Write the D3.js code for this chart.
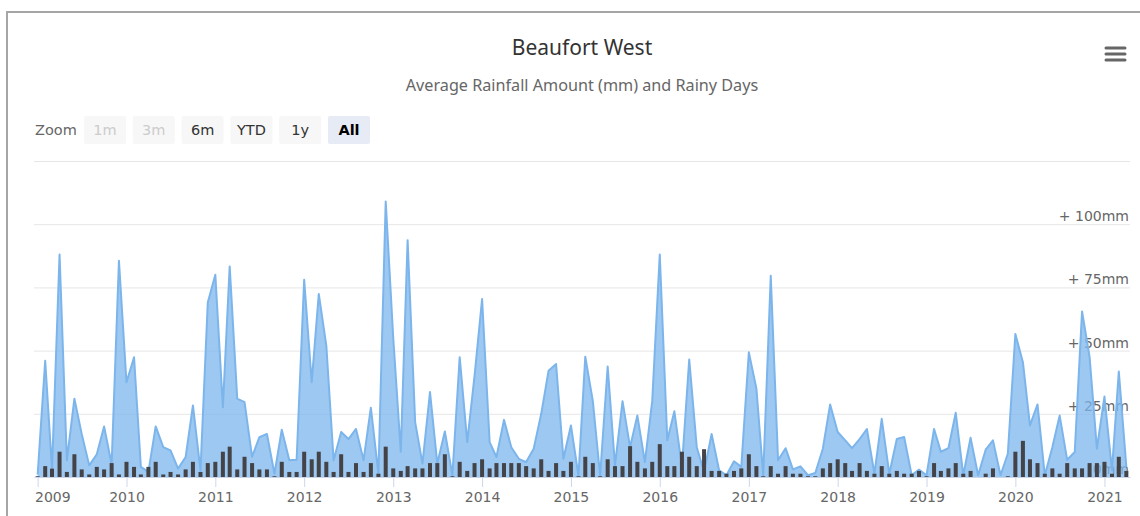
<!DOCTYPE html>
<html>
<head>
<meta charset="utf-8">
<script src="https://cdn.jsdelivr.net/npm/d3@7/dist/d3.min.js"></script>
<style>
  body { margin: 0; background: #fff; }
  svg { display: block; font-family: "DejaVu Sans", Verdana, sans-serif; }
  .head { font-family: "Noto Sans", "DejaVu Sans", sans-serif; }
</style>
</head>
<body>
<svg id="chart" width="1140" height="516"></svg>
<script>
// Beaufort West, monthly values Jan 2009 .. Apr 2021
const FIRST_MONTH = '2009-01-01';
const LAST_MONTH = '2021-04-01';

const rainfall = [
  1, 46, 3, 88, 6.6, 31, 17, 4.6, 9, 20, 5, 85.5,             // 2009
  37.5, 47.4, 4, 2, 20, 11.8, 10.5, 3.3, 7.9, 28.3, 2.6, 69,   // 2010
  80, 27.6, 83.3, 31, 29.6, 8, 15.8, 17, 1.3, 18.7, 6.6, 6.8,  // 2011
  78, 37.5, 72.4, 52, 6.6, 17.8, 15, 19, 6.6, 27.4, 1.3, 109,  // 2012
  55, 10, 93.7, 21.7, 5.3, 33.6, 5.3, 18, 0.7, 47.4, 13.8, 40, // 2013
  70.4, 13.8, 7.9, 22.6, 11.8, 7.2, 5.9, 11.2, 25, 42, 44.7, 7.2, // 2014
  20.4, 0.6, 47.6, 30, 0.6, 43.7, 4.6, 30, 11.8, 24.3, 5.9, 30,   // 2015
  88, 14.5, 26, 4, 46.5, 11.8, 2, 17, 2.6, 0.7, 6.2, 4,           // 2016
  49.3, 35, 0.7, 79.6, 6.6, 11.4, 3, 4.2, 0.7, 1.6, 11.2, 28.7,   // 2017
  17.8, 14.5, 11.4, 15, 19, 1.3, 23, 1.3, 15, 15.8, 0.7, 2.9,     // 2018
  0.7, 19, 10, 11.4, 25.4, 0.7, 15.5, 0.7, 10.8, 14.5, 0.7, 9.2,  // 2019
  56.6, 45.4, 20.4, 28.7, 0.7, 11.8, 24.3, 6.8, 9.9, 65.5, 47.4, 11.2, // 2020
  31.8, 2.6, 41.7, 4                                               // 2021
];

const rainyDays = [
  0.3, 4.3, 3.3, 10, 2, 9, 3, 1, 4, 3, 5.5, 1,
  6, 4, 1, 4, 6, 1, 2, 1, 3, 6, 2, 5.5,
  6, 10, 12, 3, 8, 5.5, 3, 3, 0.3, 6, 2, 2,
  10, 7, 10, 6, 2, 9, 2, 5.5, 2, 5.5, 1.3, 12,
  3.4, 2.4, 4.3, 3.4, 3.4, 5.5, 5.5, 9, 0.3, 6, 2.4, 5.5,
  7, 3.4, 5.5, 5.5, 5.5, 5.5, 4.3, 3.4, 7, 2.4, 5.5, 2.4,
  6, 0.3, 8, 5.5, 0.3, 7, 4.3, 4.3, 12.2, 6, 3.4, 6,
  13, 4.3, 4.3, 10, 8, 4.3, 11, 2.4, 2.4, 1.3, 2.4, 3.4,
  9, 4.3, 0.3, 4.3, 1.3, 4.3, 1.3, 1.3, 0.3, 0.3, 3.4, 5.5,
  7, 5.5, 2.4, 5.5, 2.4, 1.3, 4.3, 1.3, 2.4, 1.3, 1.3, 2.4,
  0.3, 5.5, 2.4, 3.4, 5.5, 1.3, 2.4, 0, 1.3, 3.4, 0, 0.3,
  10, 14.3, 7, 5.5, 1.3, 3.4, 1.3, 5.5, 3.4, 3.4, 5.5, 5.5,
  6, 1.3, 8, 2.4
];

const yTicks = [0, 25, 50, 75, 100, 125];
const zoomButtons = ['1m', '3m', '6m', 'YTD', '1y', 'All'];
const disabledButtons = ['1m', '3m'];
const selectedButton = 'All';

const AREA_COLOR = '#7cb5ec';
const BAR_COLOR = '#434348';
const plot = { left: 34, right: 1130, top: 161, bottom: 477 };

let svg = d3.select('#chart');

// chart box border
svg.append('rect')
  .attr('x', 7).attr('y', 12)
  .attr('width', 1160).attr('height', 520)
  .attr('fill', '#fff')
  .attr('stroke', '#a6a6a6')
  .attr('stroke-width', 2);

svg.append('text')
  .attr('class', 'head')
  .attr('x', 582).attr('y', 55)
  .attr('text-anchor', 'middle')
  .attr('fill', '#333')
  .style('font-size', '21px')
  .text('Beaufort West');

svg.append('text')
  .attr('class', 'head')
  .attr('x', 582).attr('y', 91)
  .attr('text-anchor', 'middle')
  .attr('fill', '#666')
  .style('font-size', '16.2px')
  .text('Average Rainfall Amount (mm) and Rainy Days');

// export menu icon
let menu = svg.append('g').attr('stroke', '#666').attr('stroke-width', 3).attr('stroke-linecap', 'round');
[48, 54, 60].forEach((yy) => {
  menu.append('line').attr('x1', 1106).attr('x2', 1125).attr('y1', yy).attr('y2', yy);
});

// range selector
svg.append('text')
  .attr('x', 35).attr('y', 135)
  .attr('fill', '#666')
  .style('font-size', '14.5px')
  .text('Zoom');

let btn = svg.append('g').selectAll('g')
  .data(zoomButtons)
  .enter()
  .append('g')
    .attr('transform', (d, i) => `translate(${84 + i * 48.8},116)`);

btn.append('rect')
  .attr('width', 42).attr('height', 28).attr('rx', 2)
  .attr('fill', (d) => d === selectedButton ? '#e6ebf5' : '#f7f7f7');

btn.append('text')
  .attr('x', 21).attr('y', 19)
  .attr('text-anchor', 'middle')
  .style('font-size', '14.5px')
  .style('font-weight', (d) => d === selectedButton ? 'bold' : 'normal')
  .attr('fill', (d) => disabledButtons.indexOf(d) > -1 ? '#cccccc' : (d === selectedButton ? '#000' : '#333'))
  .text((d) => d);

// scales
let months = d3.utcMonth.range(new Date(FIRST_MONTH), d3.utcMonth.offset(new Date(LAST_MONTH), 1));
let x = d3.scaleUtc()
  .domain([d3.utcDay.offset(months[0], -15), d3.utcDay.offset(months[months.length - 1], 15)])
  .range([plot.left, plot.right]);
let y = d3.scaleLinear().domain([0, 125]).range([plot.bottom, plot.top]);

// grid lines + labels (labels sit under the series, like the original)
svg.append('g').selectAll('line')
  .data(yTicks.filter((d) => d > 0))
  .enter()
  .append('line')
    .attr('x1', plot.left).attr('x2', plot.right)
    .attr('y1', (d) => y(d) + 0.5).attr('y2', (d) => y(d) + 0.5)
    .attr('stroke', '#e6e6e6');

svg.append('g').selectAll('text')
  .data(yTicks.filter((d) => d < 125))
  .enter()
  .append('text')
    .attr('x', plot.right - 1)
    .attr('y', (d) => y(d) - 3)
    .attr('text-anchor', 'end')
    .attr('fill', '#666')
    .style('font-size', '14px')
    .text((d) => d === 0 ? '0mm' : `+ ${d}mm`);

svg.append('clipPath').attr('id', 'plot-clip')
  .append('rect')
    .attr('x', plot.left).attr('y', plot.top - 10)
    .attr('width', plot.right - plot.left).attr('height', plot.bottom - plot.top + 10);

let series = svg.append('g').attr('clip-path', 'url(#plot-clip)');

let area = d3.area()
  .x((d, i) => x(months[i]))
  .y0(y(0))
  .y1((d) => y(d));
let line = d3.line()
  .x((d, i) => x(months[i]))
  .y((d) => y(d));

series.append('path')
  .datum(rainfall)
  .attr('d', area)
  .attr('fill', AREA_COLOR)
  .attr('fill-opacity', 0.75);

series.append('path')
  .datum(rainfall)
  .attr('d', line)
  .attr('fill', 'none')
  .attr('stroke', AREA_COLOR)
  .attr('stroke-width', 2)
  .attr('stroke-linejoin', 'round');

let barWidth = 4;
series.selectAll('.bar')
  .data(rainyDays)
  .enter()
  .append('rect')
    .attr('class', 'bar')
    .attr('x', (d, i) => x(months[i]) - barWidth / 2)
    .attr('y', (d) => y(d))
    .attr('width', barWidth)
    .attr('height', (d) => y(0) - y(d))
    .attr('fill', BAR_COLOR);

// x axis
let xAxis = svg.append('g')
  .attr('transform', `translate(0,${plot.bottom})`)
  .call(d3.axisBottom(x)
    .ticks(d3.utcYear.every(1))
    .tickFormat(d3.utcFormat('%Y'))
    .tickSize(10)
    .tickSizeOuter(0)
    .tickPadding(5));

xAxis.select('.domain').attr('stroke', '#ccd6eb');
xAxis.selectAll('.tick line').attr('stroke', '#ccd6eb');
xAxis.selectAll('.tick text')
  .attr('fill', '#666')
  .style('font-size', '14px')
  .style('font-family', '"DejaVu Sans", Verdana, sans-serif')
  .each(function() {
    // keep the first label inside the plot, like Highcharts does
    let tx = d3.select(this.parentNode).attr('transform').match(/translate\(([-\d.]+)/)[1];
    let w = this.getComputedTextLength();
    let left = +tx - w / 2;
    if (left < plot.left + 1) d3.select(this).attr('x', plot.left + 1 - left);
  });
</script>
</body>
</html>
